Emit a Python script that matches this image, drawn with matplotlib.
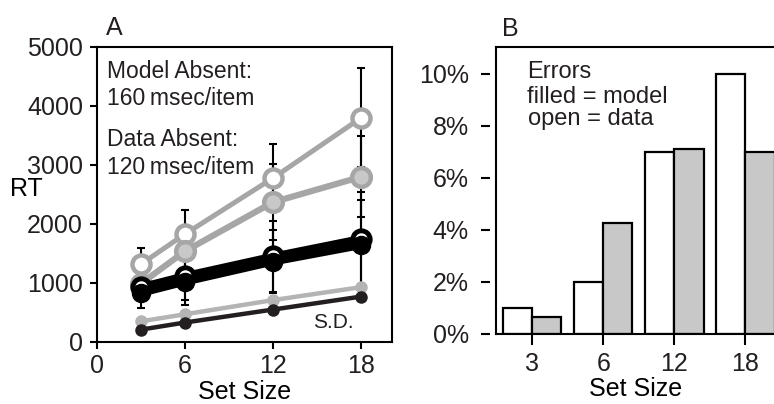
import matplotlib
matplotlib.use("Agg")
import matplotlib.pyplot as plt
import numpy as np

plt.rcParams['font.family'] = ['Liberation Sans', 'DejaVu Sans']
plt.rcParams['text.color'] = '#231f20'
plt.rcParams['xtick.labelcolor'] = '#231f20'
plt.rcParams['ytick.labelcolor'] = '#231f20'

# panel A: reaction time vs set size
set_size = [3, 6, 12, 18]
model_absent = [1320, 1830, 2780, 3800]
model_absent_err = [270, 410, 580, 840]
data_absent = [990, 1540, 2370, 2800]
data_absent_err = [200, 300, 640, 690]
model_present = [930, 1120, 1450, 1750]
model_present_err = [200, 410, 600, 790]
data_present = [830, 1020, 1360, 1640]
data_present_err = [250, 390, 530, 770]
model_sd = [350, 470, 710, 930]
data_sd = [210, 330, 550, 770]

# panel B: error rates (%)
err_labels = ['3', '6', '12', '18']
err_data = [1.0, 2.0, 7.0, 10.0]
err_model = [0.65, 4.25, 7.1, 7.0]

fig = plt.figure(figsize=(7.74, 4.04), dpi=100)

# ---- panel A
ax = fig.add_axes([0.1253, 0.1535, 0.3812, 0.7302])
gray = '#a6a6a6'
for y, e in [(model_absent, model_absent_err), (data_absent, data_absent_err),
             (model_present, model_present_err), (data_present, data_present_err)]:
    ax.errorbar(set_size, y, yerr=e, fmt='none', ecolor='black', elinewidth=1.5,
                capsize=3, capthick=1.5, zorder=1)

ax.plot(set_size, model_absent, '-o', color=gray, lw=3.6, ms=13,
        mfc='white', mec=gray, mew=3.2, zorder=3)
ax.plot(set_size, data_absent, '-o', color=gray, lw=4.5, ms=13.5,
        mfc='#c8c8c8', mec=gray, mew=3.2, zorder=3)
ax.plot(set_size, model_present, '-o', color='black', lw=5.5, ms=12.5,
        mfc='white', mec='black', mew=3.5, zorder=4)
ax.plot(set_size, data_present, '-o', color='black', lw=5.5, ms=13,
        mfc='black', mec='black', zorder=4)
ax.plot(set_size, model_sd, '-o', color='#b4b4b4', lw=3.2, ms=8,
        mfc='#b4b4b4', mec='#b4b4b4', zorder=3)
ax.plot(set_size, data_sd, '-o', color='#231f20', lw=3.2, ms=8,
        mfc='#231f20', mec='#231f20', zorder=3)

ax.set_xlim(0, 20.1)
ax.set_ylim(0, 5000)
ax.set_xticks([0, 6, 12, 18])
ax.set_yticks([0, 1000, 2000, 3000, 4000, 5000])
ax.tick_params(direction='out', length=5, width=1.5, labelsize=18, pad=4)
ax.tick_params(axis='y', pad=5)
for s in ax.spines.values():
    s.set_linewidth(1.5)
ax.set_xlabel('Set Size', fontsize=18, labelpad=1)
ax.set_ylabel('RT', fontsize=18, rotation=0, va='center')
ax.yaxis.set_label_coords(-0.24, 0.52)

ax.text(0.68, 4476, 'Model Absent:', fontsize=16.5)
ax.text(0.68, 4020, '160\u2009msec/item', fontsize=16.5)
ax.text(0.68, 3328, 'Data Absent:', fontsize=16.5)
ax.text(0.68, 2855, '120\u2009msec/item', fontsize=16.5)
ax.text(14.72, 236, 'S.D.', fontsize=15)
ax.text(0.03, 1.04, 'A', transform=ax.transAxes, fontsize=18)

# ---- panel B
bx = fig.add_axes([0.6408, 0.1733, 0.3618, 0.7104])
x = np.arange(len(err_labels))
w = 0.41
bx.bar(x - w / 2, err_data, w, color='white', edgecolor='black', lw=1.6, zorder=2)
bx.bar(x + w / 2, err_model, w, color='#c8c8c8', edgecolor='black', lw=1.6, zorder=2)
bx.set_xlim(-0.51, 3.43)
bx.set_ylim(0, 11.03)
bx.set_xticks(x)
bx.set_xticklabels(err_labels)
bx.set_yticks([0, 2, 4, 6, 8, 10])
bx.set_yticklabels(['0%', '2%', '4%', '6%', '8%', '10%'])
for s in bx.spines.values():
    s.set_linewidth(1.5)
bx.spines['left'].set_position(('outward', 4))
bx.spines['left'].set_visible(False)
bx.plot([0, 0], [0, 1], transform=bx.transAxes, color='black', lw=1.5,
        clip_on=False, zorder=5)
bx.tick_params(direction='out', width=1.5, labelsize=18)
bx.tick_params(axis='y', length=6.5, pad=9)
bx.tick_params(axis='x', length=8, pad=5)
bx.set_xlabel('Set Size', fontsize=18, labelpad=1)

bx.text(-0.073, 9.85, 'Errors', fontsize=17)
bx.text(-0.073, 8.89, 'filled = model', fontsize=17)
bx.text(-0.06, 8.05, 'open = data', fontsize=17)
bx.text(0.02, 1.04, 'B', transform=bx.transAxes, fontsize=18)

fig.savefig('out.png', dpi=100)
